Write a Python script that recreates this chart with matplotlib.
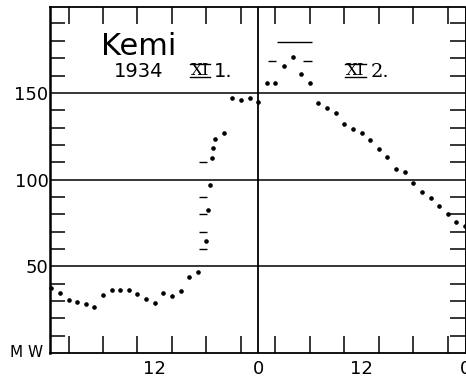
import matplotlib
matplotlib.use("Agg")
import matplotlib.pyplot as plt
from matplotlib.lines import Line2D

# hourly load, Kemi 1934 XI 1. - XI 2. (hours from midnight)
hours = [-24, -23, -22, -21, -20, -19, -18, -17, -16, -15, -14, -13, -12,
         -11, -10, -9, -8, -7, -6, -5.8, -5.6, -5.35, -5.2, -5, -4, -3,
         -2, -1, 0, 1, 2, 3, 4, 5, 6, 7, 8, 9, 10, 11, 12, 13, 14, 15, 16,
         17, 18, 19, 20, 21, 22, 23, 24]
power_mw = [37.4, 34.5, 30.5, 29.3, 28.2, 26.4, 33.3, 36.2, 36.2, 36.2,
            33.9, 31.0, 28.7, 34.5, 32.8, 35.6, 43.7, 46.6, 64.4, 82.2,
            97.1, 112.6, 118.4, 123.6, 127.0, 147.1, 146.0, 147.1, 144.8,
            155.7, 155.7, 165.5, 170.7, 160.9, 155.7, 144.3, 141.4, 138.5,
            132.2, 129.3, 127.0, 123.0, 117.8, 113.2, 106.3, 104.6, 98.3,
            93.1, 89.1, 84.5, 79.9, 75.3, 73.0]

x_label_pos = [-12, 0, 12, 24]
x_labels = ["12", "0", "12", "0"]
y_label_pos = [50, 100, 150]
y_labels = ["50", "100", "150"]
x_marks = [-22, -18, -14, -10, -6, -2, 2, 6, 10, 14, 18, 22]
y_marks = [v for v in range(10, 200, 10) if v % 50]

# short scale dashes printed in the original
dash_mw = [110, 90, 80, 70, 60, 168.5, 168.5, 179.5]
dash_from = [-6.9, -6.9, -6.9, -6.9, -6.9, 1.1, 5.2, 2.15]
dash_to = [-5.97, -5.97, -5.97, -5.97, -5.97, 2.1, 6.2, 6.3]

fig = plt.figure(figsize=(4.66, 3.77), dpi=100)
ax = fig.add_axes([50 / 466, 24 / 377, 415 / 466, 346 / 377])
ax.set_xlim(-24.15, 23.95)
ax.set_ylim(0, 199.5)

ax.axhline(50, color="black", lw=1.1)
ax.axhline(100, color="black", lw=1.1)
ax.axhline(150, color="black", lw=1.1)
ax.axvline(0, color="black", lw=1.3)

ax.plot(hours, power_mw, ls="none", marker="o", ms=2.3, color="black",
        clip_on=False)
ax.hlines(dash_mw, dash_from, dash_to, color="black", lw=1.0)

ax.set_xticks(x_label_pos)
ax.set_xticklabels(x_labels)
ax.set_xticks(x_marks, minor=True)
ax.set_yticks(y_label_pos)
ax.set_yticklabels(y_labels)
ax.set_yticks(y_marks, minor=True)
ax.tick_params(which="major", length=0, labelsize=13, pad=1)
ax.tick_params(axis="x", which="major", pad=5)
ax.tick_params(which="minor", direction="in", length=12, width=1.1,
               top=True, right=True)
ax.tick_params(axis="y", which="minor", length=11)

ax.spines["left"].set_linewidth(1.8)
ax.spines["top"].set_linewidth(1.3)
ax.spines["bottom"].set_linewidth(1.3)
ax.spines["right"].set_linewidth(0.7)

fig.text(10 / 466, 1 - 357 / 377, "M W", fontsize=11, va="baseline")
ax.text(-18.2, 171.8, "Kemi", fontsize=22, va="baseline")
ax.text(-16.7, 159.2, "1934", fontsize=14, va="baseline")
ax.text(-5.1, 159.2, "1.", fontsize=14, va="baseline")
ax.text(13.1, 159.2, "2.", fontsize=14, va="baseline", family="DejaVu Serif")
roman = [ax.text(-7.8, 160.5, "XI", fontsize=12, va="baseline",
                 family="DejaVu Serif"),
         ax.text(10.2, 160.5, "XI", fontsize=12, va="baseline",
                 family="DejaVu Serif")]

# bars above and below the month numerals
fig.canvas.draw()
inv = fig.transFigure.inverted()
for t in roman:
    bb = t.get_window_extent()
    for yb in (bb.y0 + 2, bb.y1 - 2):
        (x0, y0), (x1, _) = inv.transform([(bb.x0 - 1, yb), (bb.x1 + 1, yb)])
        fig.add_artist(Line2D([x0, x1], [y0, y0], color="black", lw=1.0))

fig.savefig("out.png", dpi=100, facecolor="white")
